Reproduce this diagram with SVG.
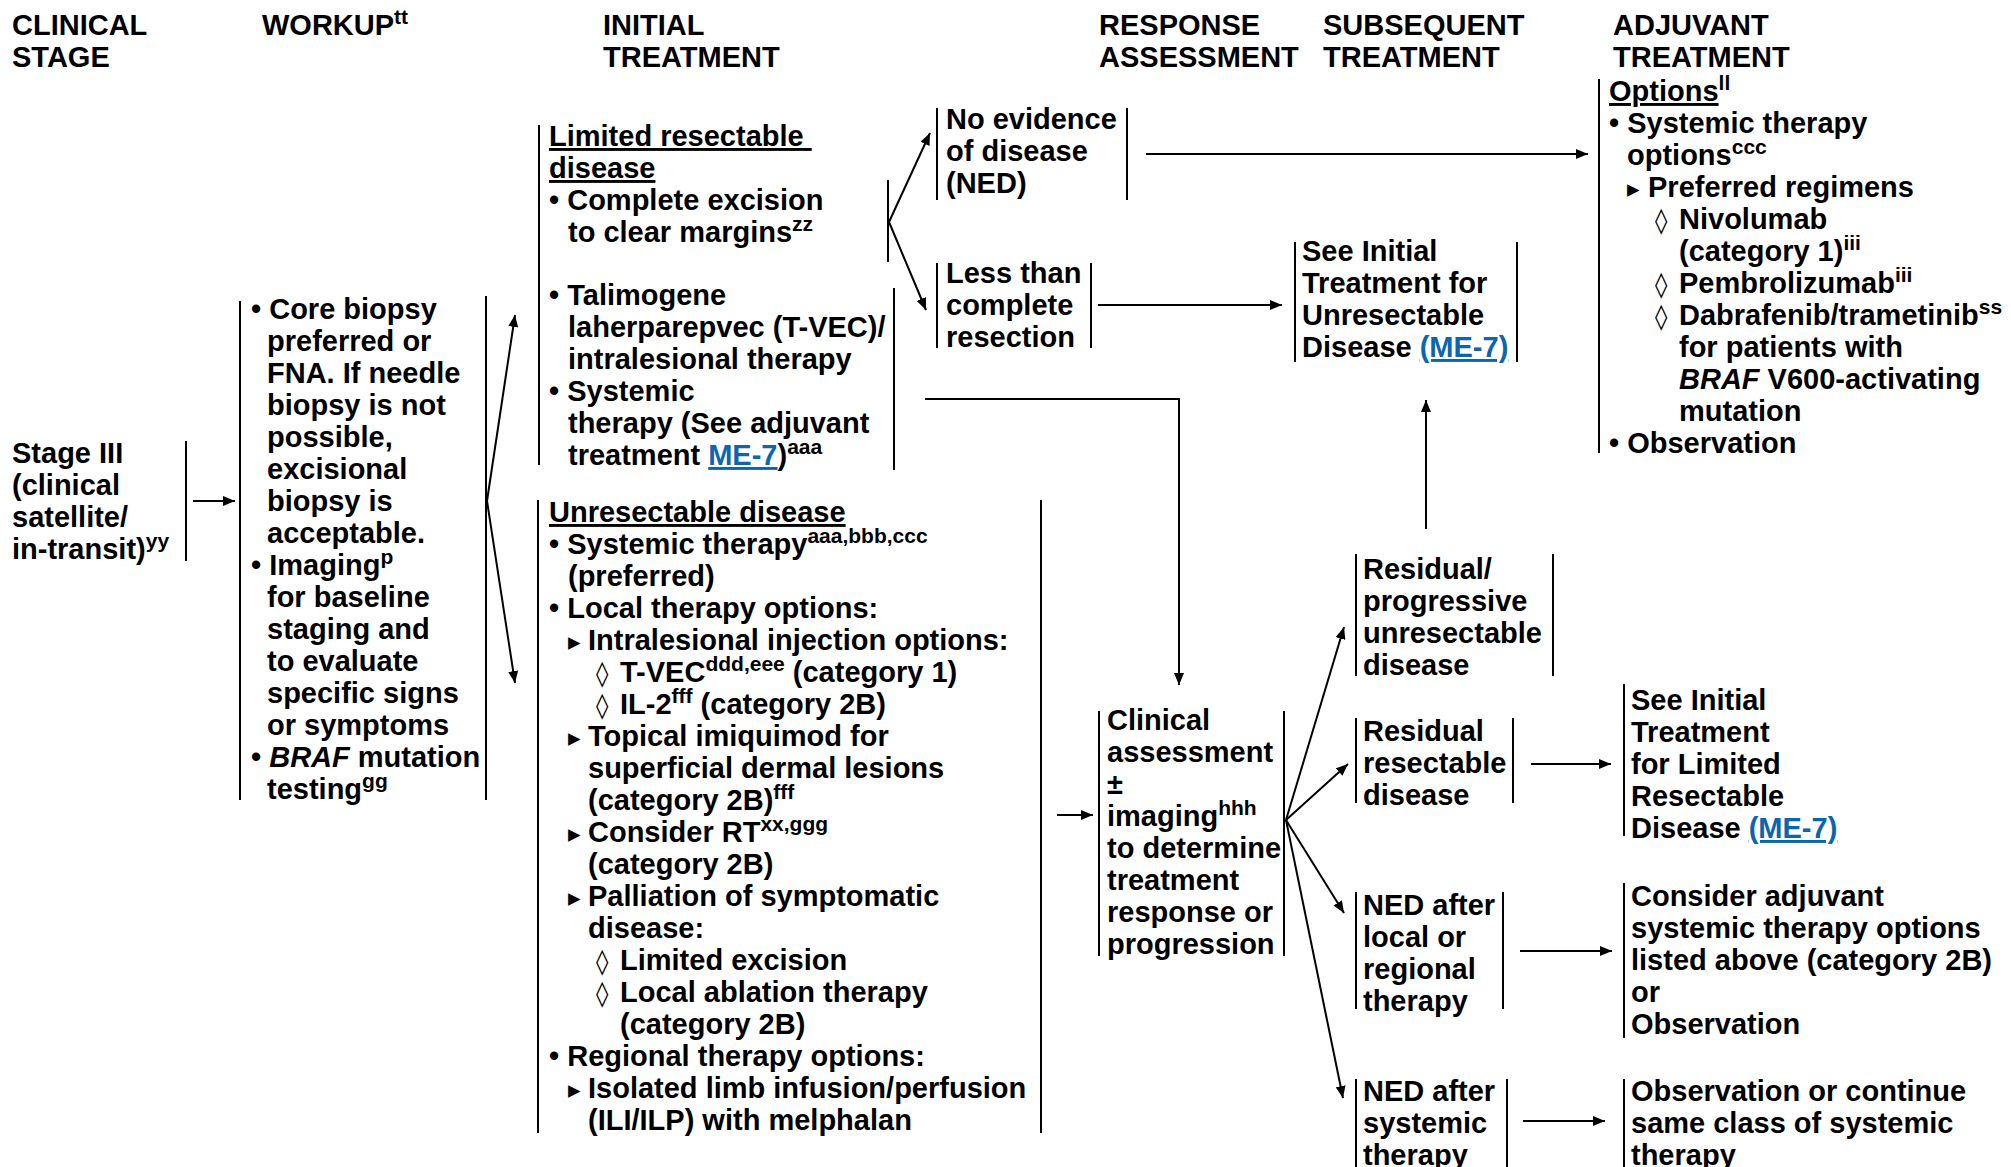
<svg xmlns="http://www.w3.org/2000/svg" width="2011" height="1167" viewBox="0 0 2011 1167">
<defs>
<style>
.t{font-family:"Liberation Sans",Arial,Helvetica,sans-serif;font-weight:bold;font-size:29px;fill:#000}
.s{font-size:21px}
.u{text-decoration:underline}
.lk{fill:#0b66ad;text-decoration:underline}
.i{font-style:italic}
.sym{font-family:"DejaVu Sans",sans-serif;font-size:25px;font-weight:normal}
.bar{stroke:#000;stroke-width:2;fill:none}
.c{stroke:#000;stroke-width:2;fill:none;marker-end:url(#ah)}
</style>
<marker id="ah" viewBox="0 0 12 10" refX="12" refY="5" markerWidth="12" markerHeight="10" orient="auto" markerUnits="userSpaceOnUse"><path d="M0,0 L12,5 L0,10 z" fill="#000"/></marker>
</defs>
<rect width="2011" height="1167" fill="#fff"/>

<g id="headers" class="t">
<text x="12" y="35">CLINICAL</text><text x="12" y="67">STAGE</text>
<text x="262" y="35">WORKUP<tspan class="s" dy="-11">tt</tspan></text>
<text x="603" y="35">INITIAL</text><text x="603" y="67">TREATMENT</text>
<text x="1099" y="35">RESPONSE</text><text x="1099" y="67">ASSESSMENT</text>
<text x="1323" y="35">SUBSEQUENT</text><text x="1323" y="67">TREATMENT</text>
<text x="1613" y="35">ADJUVANT</text><text x="1613" y="67">TREATMENT</text>
</g>

<g id="stage">
<text class="t"><tspan x="12" y="463">Stage III</tspan><tspan x="12" y="495">(clinical</tspan><tspan x="12" y="527">satellite/</tspan><tspan x="12" y="559">in-transit)</tspan><tspan class="s" dy="-11">yy</tspan></text>
<line class="bar" x1="186" y1="441" x2="186" y2="561"/>
</g>

<g id="workup">
<line class="bar" x1="240" y1="301" x2="240" y2="800"/>
<line class="bar" x1="486" y1="296" x2="486" y2="800"/>
<text class="t">
<tspan x="251" y="319">• Core biopsy</tspan>
<tspan x="267" y="351">preferred or</tspan>
<tspan x="267" y="383">FNA. If needle</tspan>
<tspan x="267" y="415">biopsy is not</tspan>
<tspan x="267" y="447">possible,</tspan>
<tspan x="267" y="479">excisional</tspan>
<tspan x="267" y="511">biopsy is</tspan>
<tspan x="267" y="543">acceptable.</tspan>
<tspan x="251" y="575">• Imaging</tspan><tspan class="s" dy="-11">p</tspan>
<tspan x="267" y="607">for baseline</tspan>
<tspan x="267" y="639">staging and</tspan>
<tspan x="267" y="671">to evaluate</tspan>
<tspan x="267" y="703">specific signs</tspan>
<tspan x="267" y="735">or symptoms</tspan>
<tspan x="251" y="767">• </tspan><tspan class="i">BRAF</tspan><tspan> mutation</tspan>
<tspan x="267" y="799">testing</tspan><tspan class="s" dy="-11">gg</tspan>
</text>
</g>

<g id="limited">
<line class="bar" x1="539" y1="125" x2="539" y2="465"/>
<line class="bar" x1="888" y1="180" x2="888" y2="262"/>
<line class="bar" x1="894" y1="288" x2="894" y2="470"/>
<text class="t">
<tspan x="549" y="146" class="u">Limited resectable </tspan>
<tspan x="549" y="178" class="u">disease</tspan>
<tspan x="549" y="210">• Complete excision</tspan>
<tspan x="568" y="242">to clear margins</tspan><tspan class="s" dy="-11">zz</tspan>
<tspan x="549" y="305">• Talimogene</tspan>
<tspan x="568" y="337">laherparepvec (T-VEC)/</tspan>
<tspan x="568" y="369">intralesional therapy</tspan>
<tspan x="549" y="401">• Systemic</tspan>
<tspan x="568" y="433">therapy (See adjuvant</tspan>
<tspan x="568" y="465">treatment </tspan><tspan class="lk">ME-7</tspan><tspan>)</tspan><tspan class="s" dy="-11">aaa</tspan>
</text>
</g>

<g id="ned">
<line class="bar" x1="937" y1="108" x2="937" y2="200"/>
<line class="bar" x1="1127" y1="108" x2="1127" y2="200"/>
<text class="t"><tspan x="946" y="129">No evidence</tspan><tspan x="946" y="161">of disease</tspan><tspan x="946" y="193">(NED)</tspan></text>
</g>

<g id="lessthan">
<line class="bar" x1="937" y1="263" x2="937" y2="348"/>
<line class="bar" x1="1091" y1="263" x2="1091" y2="348"/>
<text class="t"><tspan x="946" y="283">Less than</tspan><tspan x="946" y="315">complete</tspan><tspan x="946" y="347">resection</tspan></text>
</g>

<g id="see-unresectable">
<line class="bar" x1="1295" y1="242" x2="1295" y2="362"/>
<line class="bar" x1="1517" y1="242" x2="1517" y2="362"/>
<text class="t"><tspan x="1302" y="261">See Initial</tspan><tspan x="1302" y="293">Treatment for</tspan><tspan x="1302" y="325">Unresectable</tspan><tspan x="1302" y="357">Disease </tspan><tspan class="lk">(ME-7)</tspan></text>
</g>

<g id="options">
<line class="bar" x1="1599" y1="79" x2="1599" y2="453"/>
<text class="t">
<tspan x="1609" y="101" class="u">Options</tspan><tspan class="s" dy="-11">ll</tspan>
<tspan x="1609" y="133">• Systemic therapy</tspan>
<tspan x="1627" y="165">options</tspan><tspan class="s" dy="-11">ccc</tspan>
<tspan x="1627" y="197" class="sym">▸</tspan><tspan x="1648" y="197">Preferred regimens</tspan>
<tspan x="1655" y="229" class="sym">◊</tspan><tspan x="1679" y="229">Nivolumab</tspan>
<tspan x="1679" y="261">(category 1)</tspan><tspan class="s" dy="-11">iii</tspan>
<tspan x="1655" y="293" class="sym">◊</tspan><tspan x="1679" y="293">Pembrolizumab</tspan><tspan class="s" dy="-11">iii</tspan>
<tspan x="1655" y="325" class="sym">◊</tspan><tspan x="1679" y="325">Dabrafenib/trametinib</tspan><tspan class="s" dy="-11">ss</tspan>
<tspan x="1679" y="357">for patients with</tspan>
<tspan x="1679" y="389" class="i">BRAF</tspan><tspan> V600-activating</tspan>
<tspan x="1679" y="421">mutation</tspan>
<tspan x="1609" y="453">• Observation</tspan>
</text>
</g>

<g id="unresectable">
<line class="bar" x1="538" y1="500" x2="538" y2="1133"/>
<line class="bar" x1="1041" y1="500" x2="1041" y2="1133"/>
<text class="t">
<tspan x="549" y="522" class="u">Unresectable disease</tspan>
<tspan x="549" y="554">• Systemic therapy</tspan><tspan class="s" dy="-11">aaa,bbb,ccc</tspan>
<tspan x="568" y="586">(preferred)</tspan>
<tspan x="549" y="618">• Local therapy options:</tspan>
<tspan x="568" y="650" class="sym">▸</tspan><tspan x="588" y="650">Intralesional injection options:</tspan>
<tspan x="596" y="682" class="sym">◊</tspan><tspan x="620" y="682">T-VEC</tspan><tspan class="s" dy="-11">ddd,eee</tspan><tspan dy="11"> (category 1)</tspan>
<tspan x="596" y="714" class="sym">◊</tspan><tspan x="620" y="714">IL-2</tspan><tspan class="s" dy="-11">fff</tspan><tspan dy="11"> (category 2B)</tspan>
<tspan x="568" y="746" class="sym">▸</tspan><tspan x="588" y="746">Topical imiquimod for</tspan>
<tspan x="588" y="778">superficial dermal lesions</tspan>
<tspan x="588" y="810">(category 2B)</tspan><tspan class="s" dy="-11">fff</tspan>
<tspan x="568" y="842" class="sym">▸</tspan><tspan x="588" y="842">Consider RT</tspan><tspan class="s" dy="-11">xx,ggg</tspan>
<tspan x="588" y="874">(category 2B)</tspan>
<tspan x="568" y="906" class="sym">▸</tspan><tspan x="588" y="906">Palliation of symptomatic</tspan>
<tspan x="588" y="938">disease:</tspan>
<tspan x="596" y="970" class="sym">◊</tspan><tspan x="620" y="970">Limited excision</tspan>
<tspan x="596" y="1002" class="sym">◊</tspan><tspan x="620" y="1002">Local ablation therapy</tspan>
<tspan x="620" y="1034">(category 2B)</tspan>
<tspan x="549" y="1066">• Regional therapy options:</tspan>
<tspan x="568" y="1098" class="sym">▸</tspan><tspan x="588" y="1098">Isolated limb infusion/perfusion</tspan>
<tspan x="588" y="1130">(ILI/ILP) with melphalan</tspan>
</text>
</g>

<g id="clinical-assessment">
<line class="bar" x1="1099" y1="711" x2="1099" y2="956"/>
<line class="bar" x1="1284" y1="711" x2="1284" y2="956"/>
<text class="t">
<tspan x="1107" y="730">Clinical</tspan>
<tspan x="1107" y="762">assessment</tspan>
<tspan x="1107" y="794">±</tspan>
<tspan x="1107" y="826">imaging</tspan><tspan class="s" dy="-11">hhh</tspan>
<tspan x="1107" y="858">to determine</tspan>
<tspan x="1107" y="890">treatment</tspan>
<tspan x="1107" y="922">response or</tspan>
<tspan x="1107" y="954">progression</tspan>
</text>
</g>

<g id="residual-progressive">
<line class="bar" x1="1356" y1="554" x2="1356" y2="676"/>
<line class="bar" x1="1553" y1="554" x2="1553" y2="676"/>
<text class="t"><tspan x="1363" y="579">Residual/</tspan><tspan x="1363" y="611">progressive</tspan><tspan x="1363" y="643">unresectable</tspan><tspan x="1363" y="675">disease</tspan></text>
</g>

<g id="residual-resectable">
<line class="bar" x1="1356" y1="718" x2="1356" y2="803"/>
<line class="bar" x1="1513" y1="718" x2="1513" y2="803"/>
<text class="t"><tspan x="1363" y="741">Residual</tspan><tspan x="1363" y="773">resectable</tspan><tspan x="1363" y="805">disease</tspan></text>
</g>

<g id="see-limited">
<line class="bar" x1="1624" y1="684" x2="1624" y2="836"/>
<text class="t"><tspan x="1631" y="710">See Initial</tspan><tspan x="1631" y="742">Treatment</tspan><tspan x="1631" y="774">for Limited</tspan><tspan x="1631" y="806">Resectable</tspan><tspan x="1631" y="838">Disease </tspan><tspan class="lk">(ME-7)</tspan></text>
</g>

<g id="ned-local">
<line class="bar" x1="1356" y1="892" x2="1356" y2="1009"/>
<line class="bar" x1="1503" y1="892" x2="1503" y2="1009"/>
<text class="t"><tspan x="1363" y="915">NED after</tspan><tspan x="1363" y="947">local or</tspan><tspan x="1363" y="979">regional</tspan><tspan x="1363" y="1011">therapy</tspan></text>
</g>

<g id="consider-adjuvant">
<line class="bar" x1="1624" y1="883" x2="1624" y2="1038"/>
<text class="t"><tspan x="1631" y="906">Consider adjuvant</tspan><tspan x="1631" y="938">systemic therapy options</tspan><tspan x="1631" y="970">listed above (category 2B)</tspan><tspan x="1631" y="1002">or</tspan><tspan x="1631" y="1034">Observation</tspan></text>
</g>

<g id="ned-systemic">
<line class="bar" x1="1356" y1="1079" x2="1356" y2="1167"/>
<line class="bar" x1="1507" y1="1079" x2="1507" y2="1167"/>
<text class="t"><tspan x="1363" y="1101">NED after</tspan><tspan x="1363" y="1133">systemic</tspan><tspan x="1363" y="1165">therapy</tspan></text>
</g>

<g id="observation-continue">
<line class="bar" x1="1624" y1="1079" x2="1624" y2="1167"/>
<text class="t"><tspan x="1631" y="1101">Observation or continue</tspan><tspan x="1631" y="1133">same class of systemic</tspan><tspan x="1631" y="1165">therapy</tspan></text>
</g>

<g id="connectors">
<line class="c" x1="193" y1="501" x2="235" y2="501"/>
<line class="c" x1="487" y1="501" x2="515" y2="315"/>
<line class="c" x1="487" y1="501" x2="515" y2="683"/>
<line class="c" x1="889" y1="222" x2="930" y2="133"/>
<line class="c" x1="889" y1="222" x2="926" y2="310"/>
<line class="c" x1="1146" y1="154" x2="1588" y2="154"/>
<line class="c" x1="1098" y1="305" x2="1282" y2="305"/>
<polyline class="c" points="925,399 1179,399 1179,685"/>
<line class="c" x1="1057" y1="815" x2="1093" y2="815"/>
<line class="c" x1="1286" y1="820" x2="1344" y2="627"/>
<line class="c" x1="1286" y1="820" x2="1348" y2="764"/>
<line class="c" x1="1286" y1="820" x2="1344" y2="913"/>
<line class="c" x1="1286" y1="820" x2="1343" y2="1098"/>
<line class="c" x1="1426" y1="529" x2="1426" y2="400"/>
<line class="c" x1="1531" y1="764" x2="1611" y2="764"/>
<line class="c" x1="1520" y1="951" x2="1612" y2="951"/>
<line class="c" x1="1523" y1="1121" x2="1605" y2="1121"/>
</g>
</svg>
